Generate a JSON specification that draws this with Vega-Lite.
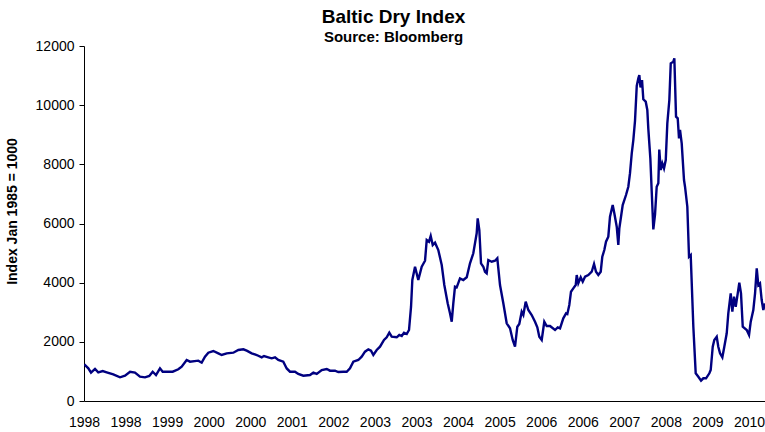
{
  "$schema": "https://vega.github.io/schema/vega-lite/v6.json",
  "width": 681,
  "height": 355,
  "autosize": {"type": "none"},
  "padding": {"left": 84, "top": 46, "right": 0, "bottom": 31},
  "background": "white",
  "title": {
    "text": "Baltic Dry Index",
    "subtitle": "Source: Bloomberg",
    "anchor": "middle",
    "dx": -31,
    "offset": -6,
    "font": "Liberation Sans",
    "fontSize": 19,
    "fontWeight": "bold",
    "color": "black",
    "subtitleFont": "Liberation Sans",
    "subtitleFontSize": 15,
    "subtitleFontWeight": "bold",
    "subtitleColor": "black",
    "subtitlePadding": 3
  },
  "config": {
    "view": {"stroke": null},
    "axis": {
      "labelFont": "Liberation Sans",
      "labelFontSize": 14,
      "labelColor": "black",
      "titleFont": "Liberation Sans",
      "titleFontSize": 14,
      "titleFontWeight": "bold",
      "titleColor": "black",
      "domainColor": "black",
      "domainWidth": 1,
      "tickColor": "black",
      "grid": false
    }
  },
  "data": {
    "values": [
      {"year": 1998.005, "bdi": 1240},
      {"year": 1998.077, "bdi": 1105},
      {"year": 1998.125, "bdi": 957},
      {"year": 1998.196, "bdi": 1082},
      {"year": 1998.254, "bdi": 970},
      {"year": 1998.333, "bdi": 1014},
      {"year": 1998.404, "bdi": 970},
      {"year": 1998.521, "bdi": 902},
      {"year": 1998.641, "bdi": 800},
      {"year": 1998.730, "bdi": 855},
      {"year": 1998.819, "bdi": 990},
      {"year": 1998.907, "bdi": 957},
      {"year": 1998.996, "bdi": 821},
      {"year": 1999.085, "bdi": 800},
      {"year": 1999.162, "bdi": 845},
      {"year": 1999.222, "bdi": 990},
      {"year": 1999.281, "bdi": 879},
      {"year": 1999.352, "bdi": 1105},
      {"year": 1999.400, "bdi": 990},
      {"year": 1999.482, "bdi": 990},
      {"year": 1999.578, "bdi": 990},
      {"year": 1999.678, "bdi": 1071},
      {"year": 1999.738, "bdi": 1160},
      {"year": 1999.827, "bdi": 1386},
      {"year": 1999.886, "bdi": 1330},
      {"year": 2000.034, "bdi": 1363},
      {"year": 2000.094, "bdi": 1295},
      {"year": 2000.153, "bdi": 1498},
      {"year": 2000.212, "bdi": 1633},
      {"year": 2000.301, "bdi": 1690},
      {"year": 2000.390, "bdi": 1612},
      {"year": 2000.450, "bdi": 1555},
      {"year": 2000.539, "bdi": 1612},
      {"year": 2000.657, "bdi": 1633},
      {"year": 2000.746, "bdi": 1724},
      {"year": 2000.835, "bdi": 1747},
      {"year": 2000.895, "bdi": 1700},
      {"year": 2000.984, "bdi": 1612},
      {"year": 2001.073, "bdi": 1555},
      {"year": 2001.162, "bdi": 1477},
      {"year": 2001.203, "bdi": 1521},
      {"year": 2001.279, "bdi": 1477},
      {"year": 2001.340, "bdi": 1443},
      {"year": 2001.399, "bdi": 1477},
      {"year": 2001.457, "bdi": 1386},
      {"year": 2001.546, "bdi": 1330},
      {"year": 2001.607, "bdi": 1100},
      {"year": 2001.665, "bdi": 990},
      {"year": 2001.754, "bdi": 990},
      {"year": 2001.813, "bdi": 913},
      {"year": 2001.902, "bdi": 855},
      {"year": 2002.021, "bdi": 879},
      {"year": 2002.080, "bdi": 957},
      {"year": 2002.141, "bdi": 913},
      {"year": 2002.230, "bdi": 1048},
      {"year": 2002.319, "bdi": 1082},
      {"year": 2002.377, "bdi": 1025},
      {"year": 2002.466, "bdi": 1025},
      {"year": 2002.525, "bdi": 980},
      {"year": 2002.614, "bdi": 990},
      {"year": 2002.674, "bdi": 990},
      {"year": 2002.733, "bdi": 1105},
      {"year": 2002.792, "bdi": 1330},
      {"year": 2002.881, "bdi": 1386},
      {"year": 2002.941, "bdi": 1498},
      {"year": 2003.000, "bdi": 1667},
      {"year": 2003.059, "bdi": 1747},
      {"year": 2003.107, "bdi": 1700},
      {"year": 2003.148, "bdi": 1555},
      {"year": 2003.208, "bdi": 1724},
      {"year": 2003.267, "bdi": 1836},
      {"year": 2003.338, "bdi": 2062},
      {"year": 2003.386, "bdi": 2153},
      {"year": 2003.432, "bdi": 2308},
      {"year": 2003.475, "bdi": 2173},
      {"year": 2003.564, "bdi": 2153},
      {"year": 2003.610, "bdi": 2231},
      {"year": 2003.653, "bdi": 2197},
      {"year": 2003.694, "bdi": 2308},
      {"year": 2003.742, "bdi": 2265},
      {"year": 2003.783, "bdi": 2400},
      {"year": 2003.819, "bdi": 3187},
      {"year": 2003.842, "bdi": 4090},
      {"year": 2003.890, "bdi": 4539},
      {"year": 2003.948, "bdi": 4090},
      {"year": 2004.009, "bdi": 4539},
      {"year": 2004.068, "bdi": 4742},
      {"year": 2004.098, "bdi": 5442},
      {"year": 2004.139, "bdi": 5385},
      {"year": 2004.169, "bdi": 5577},
      {"year": 2004.205, "bdi": 5273},
      {"year": 2004.246, "bdi": 5351},
      {"year": 2004.304, "bdi": 5104},
      {"year": 2004.365, "bdi": 4597},
      {"year": 2004.411, "bdi": 3921},
      {"year": 2004.471, "bdi": 3302},
      {"year": 2004.512, "bdi": 2964},
      {"year": 2004.543, "bdi": 2680},
      {"year": 2004.571, "bdi": 3302},
      {"year": 2004.601, "bdi": 3863},
      {"year": 2004.632, "bdi": 3843},
      {"year": 2004.690, "bdi": 4147},
      {"year": 2004.749, "bdi": 4090},
      {"year": 2004.810, "bdi": 4181},
      {"year": 2004.868, "bdi": 4654},
      {"year": 2004.927, "bdi": 4992},
      {"year": 2004.987, "bdi": 5668},
      {"year": 2005.005, "bdi": 6175},
      {"year": 2005.034, "bdi": 5780},
      {"year": 2005.064, "bdi": 4654},
      {"year": 2005.105, "bdi": 4539},
      {"year": 2005.135, "bdi": 4370},
      {"year": 2005.165, "bdi": 4316},
      {"year": 2005.194, "bdi": 4766},
      {"year": 2005.254, "bdi": 4708},
      {"year": 2005.313, "bdi": 4742},
      {"year": 2005.354, "bdi": 4823},
      {"year": 2005.402, "bdi": 3921},
      {"year": 2005.461, "bdi": 3302},
      {"year": 2005.521, "bdi": 2626},
      {"year": 2005.580, "bdi": 2457},
      {"year": 2005.628, "bdi": 2062},
      {"year": 2005.669, "bdi": 1836},
      {"year": 2005.710, "bdi": 2511},
      {"year": 2005.745, "bdi": 2603},
      {"year": 2005.788, "bdi": 3018},
      {"year": 2005.817, "bdi": 2907},
      {"year": 2005.859, "bdi": 3356},
      {"year": 2005.906, "bdi": 3076},
      {"year": 2005.966, "bdi": 2907},
      {"year": 2006.025, "bdi": 2680},
      {"year": 2006.066, "bdi": 2491},
      {"year": 2006.101, "bdi": 2173},
      {"year": 2006.144, "bdi": 2062},
      {"year": 2006.190, "bdi": 2680},
      {"year": 2006.233, "bdi": 2535},
      {"year": 2006.292, "bdi": 2535},
      {"year": 2006.381, "bdi": 2400},
      {"year": 2006.429, "bdi": 2491},
      {"year": 2006.470, "bdi": 2457},
      {"year": 2006.528, "bdi": 2795},
      {"year": 2006.577, "bdi": 2964},
      {"year": 2006.600, "bdi": 2941},
      {"year": 2006.635, "bdi": 3245},
      {"year": 2006.665, "bdi": 3694},
      {"year": 2006.706, "bdi": 3809},
      {"year": 2006.749, "bdi": 3921},
      {"year": 2006.767, "bdi": 4259},
      {"year": 2006.795, "bdi": 3978},
      {"year": 2006.838, "bdi": 4181},
      {"year": 2006.874, "bdi": 4032},
      {"year": 2006.915, "bdi": 4201},
      {"year": 2006.973, "bdi": 4259},
      {"year": 2007.034, "bdi": 4370},
      {"year": 2007.075, "bdi": 4631},
      {"year": 2007.110, "bdi": 4370},
      {"year": 2007.151, "bdi": 4259},
      {"year": 2007.194, "bdi": 4370},
      {"year": 2007.222, "bdi": 4877},
      {"year": 2007.258, "bdi": 5104},
      {"year": 2007.288, "bdi": 5385},
      {"year": 2007.329, "bdi": 5554},
      {"year": 2007.359, "bdi": 6229},
      {"year": 2007.407, "bdi": 6625},
      {"year": 2007.436, "bdi": 6344},
      {"year": 2007.479, "bdi": 5891},
      {"year": 2007.507, "bdi": 5273},
      {"year": 2007.525, "bdi": 5837},
      {"year": 2007.555, "bdi": 6229},
      {"year": 2007.585, "bdi": 6625},
      {"year": 2007.614, "bdi": 6794},
      {"year": 2007.644, "bdi": 6963},
      {"year": 2007.685, "bdi": 7243},
      {"year": 2007.715, "bdi": 7700},
      {"year": 2007.746, "bdi": 8372},
      {"year": 2007.774, "bdi": 8822},
      {"year": 2007.804, "bdi": 9470},
      {"year": 2007.835, "bdi": 10650},
      {"year": 2007.863, "bdi": 10907},
      {"year": 2007.881, "bdi": 11019},
      {"year": 2007.902, "bdi": 10600},
      {"year": 2007.929, "bdi": 10850},
      {"year": 2007.952, "bdi": 10200},
      {"year": 2007.995, "bdi": 10117},
      {"year": 2008.023, "bdi": 9836},
      {"year": 2008.041, "bdi": 9200},
      {"year": 2008.077, "bdi": 8200},
      {"year": 2008.101, "bdi": 7100},
      {"year": 2008.130, "bdi": 5800},
      {"year": 2008.160, "bdi": 6300},
      {"year": 2008.190, "bdi": 7243},
      {"year": 2008.219, "bdi": 7358},
      {"year": 2008.236, "bdi": 8500},
      {"year": 2008.262, "bdi": 7808},
      {"year": 2008.290, "bdi": 8034},
      {"year": 2008.320, "bdi": 7865},
      {"year": 2008.351, "bdi": 8146},
      {"year": 2008.379, "bdi": 9386},
      {"year": 2008.415, "bdi": 10174},
      {"year": 2008.440, "bdi": 11414},
      {"year": 2008.486, "bdi": 11469},
      {"year": 2008.504, "bdi": 11583},
      {"year": 2008.534, "bdi": 9610},
      {"year": 2008.564, "bdi": 9555},
      {"year": 2008.587, "bdi": 8879},
      {"year": 2008.605, "bdi": 9160},
      {"year": 2008.635, "bdi": 8710},
      {"year": 2008.676, "bdi": 7470},
      {"year": 2008.694, "bdi": 7243},
      {"year": 2008.735, "bdi": 6567},
      {"year": 2008.765, "bdi": 4877},
      {"year": 2008.795, "bdi": 4935},
      {"year": 2008.842, "bdi": 2511},
      {"year": 2008.884, "bdi": 936},
      {"year": 2008.931, "bdi": 821},
      {"year": 2008.979, "bdi": 686},
      {"year": 2009.020, "bdi": 767},
      {"year": 2009.068, "bdi": 767},
      {"year": 2009.127, "bdi": 936},
      {"year": 2009.151, "bdi": 1048},
      {"year": 2009.187, "bdi": 1836},
      {"year": 2009.215, "bdi": 2062},
      {"year": 2009.258, "bdi": 2173},
      {"year": 2009.286, "bdi": 1836},
      {"year": 2009.317, "bdi": 1612},
      {"year": 2009.358, "bdi": 1477},
      {"year": 2009.393, "bdi": 1836},
      {"year": 2009.436, "bdi": 2288},
      {"year": 2009.464, "bdi": 2964},
      {"year": 2009.507, "bdi": 3640},
      {"year": 2009.536, "bdi": 3018},
      {"year": 2009.566, "bdi": 3525},
      {"year": 2009.596, "bdi": 3187},
      {"year": 2009.632, "bdi": 3640},
      {"year": 2009.660, "bdi": 3998},
      {"year": 2009.690, "bdi": 3640},
      {"year": 2009.721, "bdi": 2511},
      {"year": 2009.792, "bdi": 2400},
      {"year": 2009.833, "bdi": 2231},
      {"year": 2009.863, "bdi": 2680},
      {"year": 2009.909, "bdi": 3076},
      {"year": 2009.940, "bdi": 3640},
      {"year": 2009.970, "bdi": 4485},
      {"year": 2009.998, "bdi": 3921},
      {"year": 2010.028, "bdi": 3978},
      {"year": 2010.058, "bdi": 3414},
      {"year": 2010.087, "bdi": 3076},
      {"year": 2010.117, "bdi": 3300}
    ]
  },
  "mark": {"type": "line", "color": "#000080", "strokeWidth": 2.4, "clip": true},
  "encoding": {
    "x": {
      "field": "year",
      "type": "quantitative",
      "scale": {"domain": [1998, 2010.117], "nice": false, "zero": false},
      "axis": {
        "title": null,
        "ticks": false,
        "values": [1998, 1998.7395, 1999.479, 2000.2185, 2000.958, 2001.6975, 2002.437, 2003.1765, 2003.916, 2004.6555, 2005.395, 2006.1345, 2006.874, 2007.6135, 2008.353, 2009.0925, 2009.832],
        "labelExpr": "datum.value > 2009.5 ? '2010' : format(floor(datum.value), 'd')",
        "labelPadding": 14,
        "labelOverlap": false,
        "labelFlush": false
      }
    },
    "y": {
      "field": "bdi",
      "type": "quantitative",
      "scale": {"domain": [0, 12000], "nice": false},
      "axis": {
        "title": "Index Jan 1985 = 1000",
        "values": [0, 2000, 4000, 6000, 8000, 10000, 12000],
        "format": "d",
        "tickSize": 5,
        "labelPadding": 5,
        "titlePadding": 16,
        "titleY": 165
      }
    }
  }
}
